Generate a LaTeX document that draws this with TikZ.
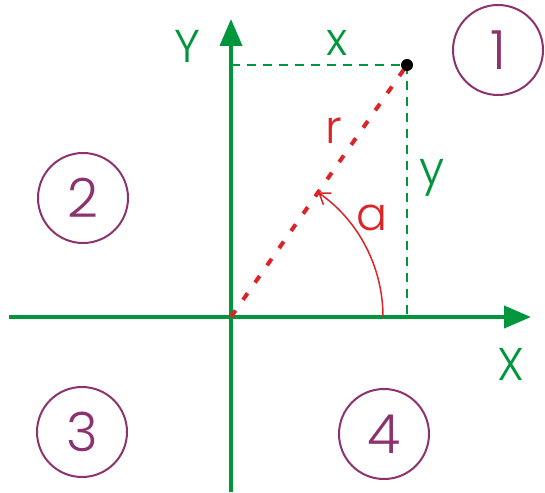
\documentclass[tikz,border=0pt]{standalone}
\usepackage{fontspec}
\setmainfont{Poppins}[UprightFont=* Light]
\usetikzlibrary{arrows.meta}
\definecolor{axgreen}{RGB}{0,150,60}
\definecolor{rred}{RGB}{220,35,40}
\definecolor{qpurple}{RGB}{140,50,110}
\tikzset{
  axis/.style={draw=axgreen,line width=4pt,-{Triangle[length=27pt,width=22pt]}},
  proj/.style={draw=axgreen,line width=1.8pt,dash pattern=on 9pt off 7pt},
  radius line/.style={draw=rred,line width=4pt,dash pattern=on 8pt off 13pt},
  quad/.style={circle,draw=qpurple,line width=2pt,minimum size=90pt,inner sep=0pt,text=qpurple,font=\fontsize{54}{54}\selectfont},
  glabel/.style={text=axgreen,inner sep=0pt,font=\fontsize{46}{46}\selectfont},
  rlabel/.style={text=rred,inner sep=0pt,font=\fontsize{46}{46}\selectfont}
}
\begin{document}
\begin{tikzpicture}[x=1pt,y=-1pt]
\useasboundingbox (0,0) rectangle (545,492);
\coordinate (O) at (231,317);
\coordinate (P) at (407,65);
\coordinate (xl) at (9,317);
\coordinate (xr) at (531,317);
\coordinate (yb) at (231,492);
\coordinate (yt) at (231,19);
\coordinate (a0) at (383,317);
% projections
\draw[proj] (P -| O) -- (P);
\draw[proj] (P) -- (P |- O);
% axes
\draw[axis] (xl) -- (xr);
\draw[axis] (yb) -- (yt);
% radius
\draw[radius line] (O) -- (P);
\fill (P) circle (6pt);
% angle arc
\draw[rred,line width=1.5pt,-{Straight Barb[length=10pt,width=14pt]}] (a0) arc[start angle=0,end angle=-55,radius=152];
% labels
\node[glabel] (Ylab) at (187,46) {Y};
\node[glabel] (Xlab) at (511,364) {X};
\node[glabel] (xlab) at (337,43) {x};
\node[glabel] (ylab) at (432,178) {y};
\node[rlabel] (rlab) at (334,131) {r};
\node[rlabel] (alab) at (372,218) {a};
% quadrants
\node[quad] (q1) at (498,50) {1};
\node[quad] (q2) at (83,198) {2};
\node[quad] (q3) at (82,432) {3};
\node[quad] (q4) at (384,434) {4};
\end{tikzpicture}
\end{document}
